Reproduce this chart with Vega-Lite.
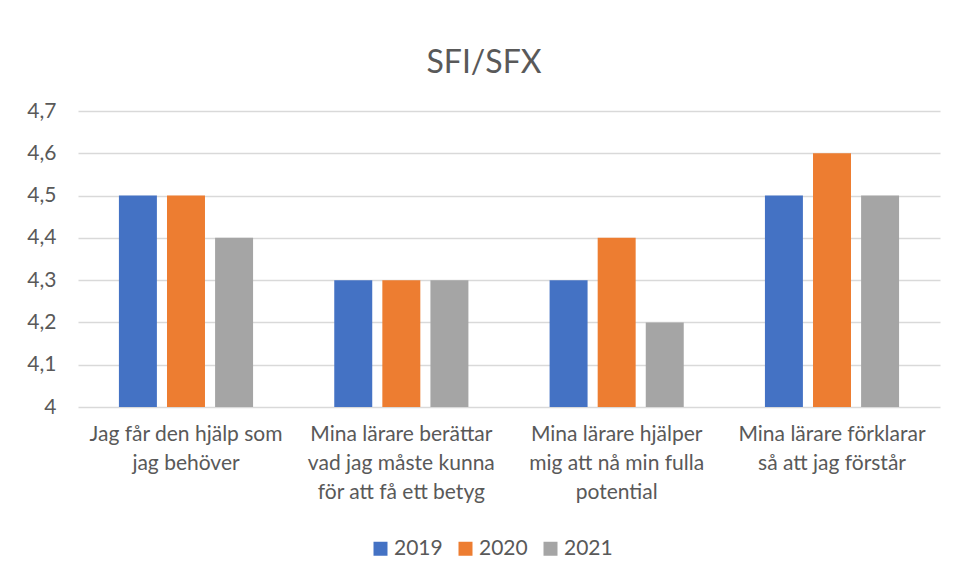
{
  "$schema": "https://vega.github.io/schema/vega-lite/v6.json",
  "width": 862,
  "height": 296,
  "autosize": {"type": "none"},
  "padding": {"left": 78, "top": 111, "right": 15, "bottom": 173},
  "background": "white",
  "title": {
    "text": "SFI/SFX",
    "fontSize": 32,
    "font": "Lato",
    "fontWeight": "normal",
    "color": "#595959",
    "anchor": "middle",
    "dx": -25,
    "offset": 20
  },
  "data": {
    "values": [
      {"q": "Jag får den hjälp som\njag behöver", "year": "2019", "v": 4.5},
      {"q": "Jag får den hjälp som\njag behöver", "year": "2020", "v": 4.5},
      {"q": "Jag får den hjälp som\njag behöver", "year": "2021", "v": 4.4},
      {"q": "Mina lärare berättar\nvad jag måste kunna\nför att få ett betyg", "year": "2019", "v": 4.3},
      {"q": "Mina lärare berättar\nvad jag måste kunna\nför att få ett betyg", "year": "2020", "v": 4.3},
      {"q": "Mina lärare berättar\nvad jag måste kunna\nför att få ett betyg", "year": "2021", "v": 4.3},
      {"q": "Mina lärare hjälper\nmig att nå min fulla\npotential", "year": "2019", "v": 4.3},
      {"q": "Mina lärare hjälper\nmig att nå min fulla\npotential", "year": "2020", "v": 4.4},
      {"q": "Mina lärare hjälper\nmig att nå min fulla\npotential", "year": "2021", "v": 4.2},
      {"q": "Mina lärare förklarar\nså att jag förstår", "year": "2019", "v": 4.5},
      {"q": "Mina lärare förklarar\nså att jag förstår", "year": "2020", "v": 4.6},
      {"q": "Mina lärare förklarar\nså att jag förstår", "year": "2021", "v": 4.5}
    ]
  },
  "mark": {"type": "bar", "clip": true},
  "encoding": {
    "x": {
      "field": "q",
      "type": "nominal",
      "sort": null,
      "scale": {"paddingInner": 0.377, "paddingOuter": 0.19},
      "axis": {
        "title": null,
        "labelAngle": 0,
        "labelExpr": "split(datum.label, '\\n')",
        "labelFont": "Lato",
        "labelFontSize": 21,
        "labelLineHeight": 29,
        "labelColor": "#595959",
        "labelPadding": 16,
        "labelLimit": 260,
        "domain": false,
        "ticks": false,
        "grid": false
      }
    },
    "xOffset": {
      "field": "year",
      "type": "nominal",
      "scale": {"paddingInner": 0.21, "paddingOuter": 0}
    },
    "y": {
      "field": "v",
      "type": "quantitative",
      "scale": {"domain": [4, 4.7], "zero": false, "nice": false},
      "axis": {
        "title": null,
        "values": [4, 4.1, 4.2, 4.3, 4.4, 4.5, 4.6, 4.7],
        "labelExpr": "datum.value == 4 ? '4' : replace(format(datum.value, '.1f'), '.', ',')",
        "labelFont": "Lato",
        "labelFontSize": 21,
        "labelColor": "#595959",
        "labelPadding": 22,
        "domain": false,
        "ticks": false,
        "gridColor": "#D9D9D9",
        "gridWidth": 1.3
      }
    },
    "color": {
      "field": "year",
      "type": "nominal",
      "scale": {"domain": ["2019", "2020", "2021"], "range": ["#4472C4", "#ED7D31", "#A5A5A5"]},
      "legend": {
        "title": null,
        "orient": "none",
        "direction": "horizontal",
        "legendX": 292,
        "legendY": 427,
        "symbolType": "square",
        "symbolSize": 196,
        "symbolStrokeWidth": 0,
        "symbolOpacity": 1,
        "labelFont": "Lato",
        "labelFontSize": 21,
        "labelColor": "#595959",
        "labelOffset": 3,
        "columnPadding": 12
      }
    }
  },
  "config": {"view": {"stroke": null}}
}
